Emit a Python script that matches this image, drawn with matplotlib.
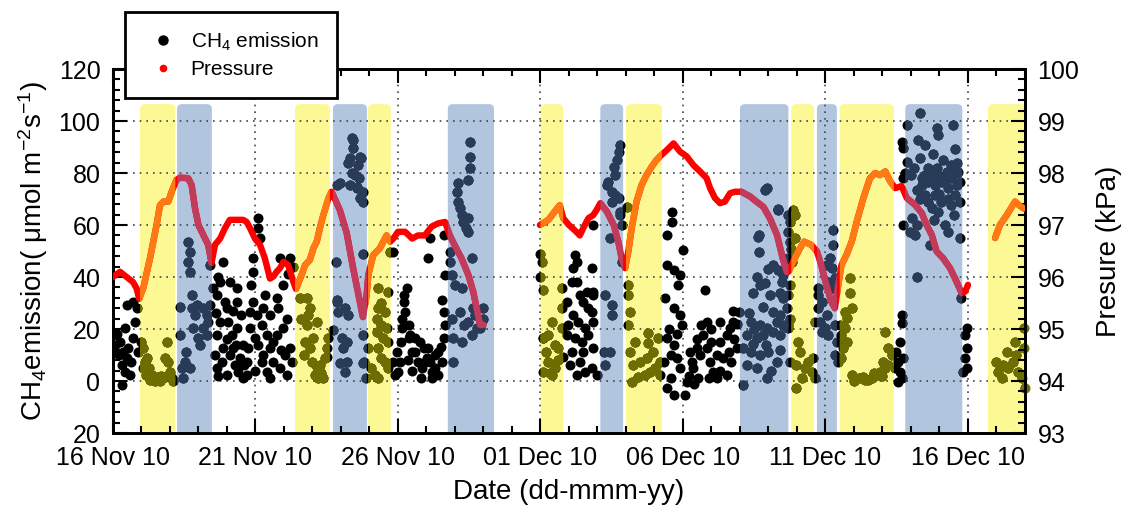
import numpy as np
import matplotlib
matplotlib.use('Agg')
import matplotlib.pyplot as plt
import matplotlib.dates as mdates
from matplotlib.patches import FancyBboxPatch
from matplotlib.lines import Line2D
from matplotlib.ticker import MultipleLocator, FuncFormatter

plt.rcParams['font.family'] = ['Liberation Sans', 'DejaVu Sans']
plt.rcParams['mathtext.fontset'] = 'custom'
plt.rcParams['mathtext.rm'] = 'Liberation Sans'
plt.rcParams['mathtext.it'] = 'Liberation Sans:italic'

# all times are days after 16 Nov 2010 00:00
start = np.datetime64('2010-11-16')

# CH4 emission (umol m-2 s-1), (day, value), by period
ch4_nov16 = [(0.07, 13.8), (0.25, 15.1), (0.36, 11.3), (0.30, 6.2), (0.30, -1.5), (0.48, 8.7),
             (0.54, 12.6), (0.42, 20.3), (0.48, 29.2), (0.71, 30.5), (0.77, 22.8), (0.71, 16.4),
             (0.60, 2.3), (0.83, 28.0), (0.89, 11.3), (0.42, 3.6), (0.20, 10.0), (0.65, 7.4),
             (0.15, 18.0), (0.05, 11.0)]
ch4_nov17 = [(1.06, 12.6), (1.12, 7.4), (1.17, 2.3), (1.30, 0.4), (1.47, 0.0), (1.65, 0.0),
             (1.77, 1.0), (1.88, 15.1), (1.94, 7.4), (2.00, 3.6), (2.06, 1.0), (1.82, 8.7),
             (1.06, 4.9), (1.20, 8.7), (1.36, 2.3), (1.59, 1.7), (2.12, 0.0), (1.00, 15.0), (1.25, 5.0),
             (1.40, 1.5), (1.70, 2.0), (1.55, 0.5)]
ch4_nov18 = [(2.35, 28.6), (2.35, 17.7), (2.47, 1.0), (2.58, 11.3), (2.64, 53.6), (2.70, 49.7),
             (2.64, 45.9), (2.70, 42.0), (2.76, 33.0), (2.76, 28.0), (2.88, 25.4), (2.82, 20.3),
             (3.00, 16.4), (3.05, 13.8), (3.17, 28.0), (3.29, 25.4), (3.34, 22.8), (3.29, 17.7),
             (3.17, 20.3), (3.40, 29.2), (3.40, 44.6), (2.41, 4.9), (2.53, 7.4), (2.70, 4.9), (2.94, 29.2)]
ch4_nov19 = [(3.52, 35.6), (3.64, 33.0), (3.75, 38.2), (3.87, 45.9), (3.93, 30.5), (3.99, 28.0),
             (4.05, 22.8), (4.10, 38.2), (4.16, 17.7), (3.64, 17.7), (3.58, 10.0), (3.64, 4.9),
             (3.81, 7.4), (3.99, 2.3), (4.10, 10.0), (4.22, 12.6), (4.28, 6.2), (4.40, 3.6),
             (4.46, 8.7), (4.57, 1.0), (4.69, 2.3), (4.69, 7.4), (4.80, 20.3), (4.80, 26.7),
             (4.92, 30.5), (4.86, 37.0), (4.92, 42.0), (4.92, 47.2), (5.10, 62.6), (5.10, 58.7),
             (5.16, 54.9), (5.04, 25.4), (4.98, 16.4), (5.10, 13.8), (5.22, 21.5), (5.27, 28.0),
             (5.33, 33.0), (5.39, 17.7), (5.51, 25.4), (5.51, 12.6), (5.63, 7.4), (5.74, 17.7),
             (5.80, 28.0), (5.86, 47.2), (5.98, 37.0), (6.04, 10.0), (6.09, 2.3), (6.21, 47.2),
             (6.21, 12.6), (6.27, 7.4), (5.22, 7.4), (5.39, 3.6), (5.86, 4.9), (4.57, 13.8),
             (4.34, 20.3), (4.34, 30.5), (4.51, 25.4), (3.75, 22.8), (3.87, 12.6), (5.74, 31.8),
             (5.98, 20.3), (5.27, 10.0), (5.63, 15.1), (4.75, 12.6), (4.34, 35.6), (6.15, 41.0),
             (6.33, 44.0), (3.70, 40.0), (3.70, 2.0), (4.00, 16.0), (4.30, 14.0), (4.60, 6.0),
             (5.00, 4.0), (5.50, 1.0), (5.90, 12.0), (6.10, 24.0), (4.20, 27.0), (3.60, 26.0)]
ch4_nov22 = [(6.80, 31.8), (6.85, 25.4), (6.80, 21.5), (6.74, 15.1), (6.91, 12.6), (6.97, 7.4),
             (7.09, 2.3), (7.20, 1.0), (7.38, 1.0), (7.43, 8.7), (7.50, 12.6), (7.56, 16.4),
             (7.03, 16.4), (7.15, 22.8), (6.91, 28.0), (7.26, 6.2), (6.56, 32.0), (6.60, 24.0),
             (7.16, 5.4), (7.50, 9.2), (6.70, 10.0), (7.30, 3.0)]
ch4_nov23 = [(8.37, 93.3), (8.43, 89.5), (8.32, 85.6), (8.60, 83.0), (8.71, 85.6), (8.49, 79.2),
             (8.32, 75.4), (8.55, 74.1), (8.77, 72.8), (8.67, 70.3), (8.77, 69.0), (7.97, 76.0),
             (7.84, 45.9), (7.90, 26.7), (8.14, 28.0), (8.26, 25.4), (8.03, 16.4), (8.20, 15.1),
             (8.08, 12.6), (8.20, 7.4), (8.14, 3.6), (8.77, 17.7), (8.82, 7.4), (8.89, 1.0),
             (8.25, 83.8), (8.42, 92.7), (8.67, 86.0), (8.56, 74.6), (7.86, 31.0), (7.72, 19.6),
             (7.96, 7.0), (8.77, 49.0), (8.77, 7.0), (7.85, 75.4), (7.85, 30.5), (8.40, 80.0), (8.62, 78.0)]
ch4_nov25 = [(9.31, 35.6), (9.66, 34.4), (9.31, 28.0), (9.54, 26.7), (9.25, 24.0), (9.42, 21.5),
             (9.60, 20.3), (9.49, 16.4), (9.31, 12.6), (9.66, 15.1), (9.42, 8.7), (9.54, 7.4),
             (9.18, 2.3), (9.30, 1.0), (9.66, 4.9), (9.73, 49.7), (8.96, 12.6), (9.25, 19.0),
             (9.05, 5.0), (9.40, 30.0)]
ch4_nov26 = [(9.84, 49.7), (10.30, 35.6), (10.20, 30.5), (10.25, 26.7), (10.13, 20.3), (10.37, 21.5),
             (10.43, 17.7), (10.60, 16.4), (10.77, 15.1), (10.90, 12.6), (11.02, 8.7), (11.12, 7.4),
             (11.30, 4.9), (11.42, 2.3), (11.53, 7.4), (11.60, 16.4), (11.65, 21.5), (11.60, 26.7),
             (9.95, 11.3), (10.07, 7.4), (10.00, 3.6), (10.48, 11.3), (10.71, 7.4), (10.83, 4.9),
             (11.07, 12.6), (11.30, 10.0), (11.12, 54.9), (11.07, 47.2), (11.60, 56.0), (11.65, 40.8),
             (10.37, 16.4), (10.60, 11.3), (11.18, 3.6), (10.94, 7.4), (11.42, 11.3), (9.84, 7.4),
             (9.90, 2.3), (10.20, 33.0), (10.10, 15.0), (11.55, 31.0), (10.50, 4.0), (10.80, 1.0),
             (11.20, 1.0), (11.50, 13.0), (10.35, 8.0), (10.15, 24.0)]
ch4_nov28 = [(12.53, 92.0), (12.53, 86.3), (12.53, 81.8), (12.47, 77.3), (12.12, 76.0), (12.06, 72.8),
             (12.12, 69.0), (12.18, 66.4), (12.23, 63.8), (12.29, 61.3), (12.40, 58.7), (12.47, 57.4),
             (12.47, 62.6), (12.60, 47.2), (11.82, 49.7), (11.82, 45.9), (11.88, 40.8), (12.00, 37.0),
             (12.23, 35.6), (12.18, 26.7), (11.88, 24.0), (12.30, 21.5), (12.47, 22.8), (12.65, 28.0),
             (12.76, 20.3), (13.00, 28.0), (13.00, 24.0), (11.94, 16.4), (12.23, 15.1), (11.94, 7.4),
             (12.60, 17.7), (12.70, 25.4), (12.88, 20.3)]
ch4_dec01 = [(14.98, 49.0), (14.98, 40.0), (15.04, 45.9), (15.10, 16.4), (15.28, 7.4), (15.40, 22.8),
             (15.50, 4.9), (15.75, 35.6), (15.75, 28.0), (15.63, 12.6), (15.40, 2.3), (15.20, 11.3),
             (15.50, 13.8), (15.75, 20.3), (15.28, 17.7), (15.10, 3.6), (15.09, 35.0), (15.09, 16.5),
             (15.79, 9.2), (15.33, 3.0), (15.60, 8.0)]
ch4_dec02 = [(16.21, 48.5), (16.27, 45.9), (16.15, 43.3), (16.10, 38.2), (16.27, 38.2), (16.80, 43.3),
             (16.39, 33.0), (16.62, 34.4), (16.85, 34.4), (16.85, 33.0), (15.93, 30.5), (16.50, 30.5),
             (16.67, 28.0), (16.80, 26.7), (16.15, 25.4), (15.97, 21.5), (16.33, 22.8), (16.57, 20.3),
             (16.85, 22.8), (15.92, 17.7), (16.21, 16.4), (16.45, 15.1), (16.67, 17.7), (16.10, 11.3),
             (16.50, 11.3), (16.85, 12.6), (16.03, 6.2), (16.39, 7.4), (16.57, 3.6), (16.80, 4.9),
             (16.97, 2.3), (16.27, 2.3), (16.85, 60.0)]
ch4_dec03 = [(17.80, 90.8), (17.74, 88.2), (17.68, 85.0), (17.57, 82.4), (17.63, 79.2), (17.33, 75.4),
             (17.50, 72.8), (17.63, 71.5), (17.74, 70.3), (17.50, 69.0), (17.80, 65.1), (17.85, 60.0),
             (17.45, 54.9), (17.85, 45.9), (17.26, 33.0), (17.50, 29.2), (17.50, 25.4), (17.23, 11.3),
             (17.45, 11.3), (17.26, 6.2), (17.80, 63.8), (17.38, 76.7)]
ch4_dec04 = [(18.08, 37.0), (18.08, 33.0), (18.14, 26.7), (18.08, 21.5), (18.14, 11.3), (18.26, 6.2),
             (18.20, -0.3), (18.43, 1.7), (18.67, 2.3), (18.85, 3.6), (19.02, 4.9), (19.20, 7.4),
             (18.78, 18.3), (18.78, 14.5), (18.96, 11.3), (19.13, 16.4), (18.49, 7.4), (18.73, 8.7),
             (19.20, 2.3), (18.32, 15.1), (18.02, 67.0)]
ch4_dec05 = [(19.60, 65.1), (19.60, 61.3), (19.43, 56.2), (20.00, 50.4), (19.43, 44.6), (19.67, 42.7),
             (19.90, 40.8), (19.84, 37.0), (20.77, 35.1), (19.37, 31.8), (19.67, 28.0), (19.90, 25.4),
             (19.95, 21.5), (19.43, 16.4), (19.67, 13.8), (19.58, 10.0), (19.35, 7.4), (19.58, 1.0),
             (19.43, -2.8), (19.67, -5.4), (20.07, -5.4), (20.13, -0.3), (20.36, 4.9), (20.25, 11.3),
             (20.48, 12.6), (20.65, 21.5), (20.83, 22.8), (20.70, 17.7), (20.83, 12.6), (20.95, 7.4),
             (21.07, 3.6), (21.18, 10.0), (21.30, 15.1), (21.30, 22.8), (21.53, 17.7), (21.65, 20.3),
             (21.77, 22.8), (21.95, 26.7), (21.88, 12.6), (21.70, 7.4), (21.53, 2.3), (21.18, 1.0),
             (20.54, 1.0), (19.90, 4.9), (19.78, 8.7), (20.30, 7.4), (21.00, 15.1), (21.40, 8.7),
             (20.60, 10.0), (21.75, 27.0), (21.90, 22.0), (20.20, 2.0), (20.40, -1.0), (20.90, 1.0),
             (21.30, 4.0), (21.60, 11.0), (21.80, 16.0), (21.00, 20.0), (20.50, 16.0), (19.50, 20.0),
             (19.80, 18.0)]
ch4_dec08 = [(22.94, 74.1), (23.35, 65.8), (22.65, 56.2), (22.65, 49.7), (23.17, 44.6), (23.35, 42.7),
             (23.52, 40.8), (23.47, 38.2), (22.70, 37.0), (22.87, 37.6), (22.47, 33.7), (23.05, 33.0),
             (23.40, 33.7), (23.52, 31.8), (22.82, 28.6), (23.17, 26.7), (23.40, 25.4), (23.64, 28.0),
             (22.40, 22.8), (22.70, 21.5), (22.94, 20.3), (23.29, 22.8), (23.52, 21.5), (23.76, 24.0),
             (22.23, 17.7), (22.58, 16.4), (22.82, 17.7), (23.17, 19.0), (23.40, 17.7), (22.10, 12.6),
             (22.40, 11.3), (22.70, 10.0), (22.99, 11.3), (23.29, 7.4), (22.23, 6.2), (22.58, 4.9),
             (22.94, 1.0), (22.10, -1.5), (23.70, 20.3), (22.47, 14.1), (22.88, 73.5), (23.33, 66.0),
             (22.63, 55.4), (22.30, 26.0), (22.50, 20.0), (22.90, 14.0), (23.10, 4.0), (23.40, 12.0),
             (22.60, 40.0), (23.00, 43.0)]
ch4_dec09 = [(23.70, 63.8), (23.75, 61.3), (23.70, 57.4), (23.75, 53.6), (23.70, 47.2), (23.75, 37.0),
             (23.70, 33.0), (23.70, 21.5), (23.75, 7.4), (23.80, 50.9),
             (23.87, 65.8), (23.93, 63.8), (23.93, 54.9), (24.05, 15.1), (24.10, 11.3), (23.98, 6.2),
             (24.28, 4.9), (24.17, 1.0), (23.98, -2.8), (24.40, 7.4), (24.52, 3.6), (24.63, 1.0),
             (24.57, 8.7), (24.63, 22.8), (23.81, 45.9)]
ch4_dec10 = [(25.27, 58.0), (25.27, 52.3), (25.16, 47.2), (25.22, 43.3), (25.04, 44.6), (25.33, 39.5),
             (25.10, 38.2), (25.27, 35.6), (24.75, 35.6), (24.87, 30.5), (24.75, 28.0), (25.04, 25.4),
             (24.80, 22.8), (24.98, 20.3), (24.87, 19.0), (25.33, 21.5), (25.39, 15.1), (25.33, 10.0),
             (25.45, 7.4), (25.10, 17.7), (24.75, 33.0)]
ch4_dec11 = [(25.86, 39.5), (25.86, 33.7), (25.92, 28.0), (25.74, 24.1), (25.68, 20.3), (25.56, 17.7),
             (25.62, 12.6), (25.74, 15.1), (25.56, 8.7), (25.50, 21.5), (25.92, 2.3), (26.16, 1.0),
             (26.39, 0.4), (26.62, 1.0), (26.80, 2.3), (26.92, 3.6), (27.09, 4.9), (27.09, 19.0),
             (27.20, 12.6), (27.32, 10.0), (27.03, 7.4), (25.68, 26.7), (26.00, 0.0), (26.30, 1.5),
             (26.50, 0.5), (26.70, 3.0), (27.00, 2.0), (27.20, 6.0),
             (27.49, 11.3), (27.55, 7.4), (27.60, 3.6), (27.67, 1.0), (27.55, -0.3), (27.73, 8.7),
             (27.60, 15.1), (27.67, 25.4), (27.67, 22.2), (27.43, 4.9)]
ch4_dec13 = [(28.32, 103.0), (27.85, 98.5), (27.67, 92.0), (27.73, 89.5), (27.85, 84.4), (27.79, 79.9),
             (28.00, 79.2), (28.26, 92.7), (28.50, 90.8), (28.32, 85.6), (28.61, 81.8), (28.90, 97.2),
             (28.96, 94.6), (29.49, 98.5), (28.78, 87.4), (29.13, 84.9), (29.54, 89.3), (29.42, 83.0),
             (29.66, 80.5), (28.38, 75.4), (28.61, 76.7), (28.84, 75.4), (29.07, 76.7), (29.30, 74.1),
             (29.54, 71.5), (29.71, 76.7), (28.50, 71.5), (28.84, 71.5), (29.07, 69.0), (28.73, 66.4),
             (28.96, 65.1), (29.42, 67.7), (29.71, 69.0), (28.02, 62.6), (28.20, 60.0), (27.96, 57.4),
             (28.14, 56.2), (27.73, 60.0), (28.67, 52.3), (29.19, 60.0), (29.30, 57.4), (29.71, 54.9),
             (28.20, 40.1), (28.50, 79.2), (28.20, 73.6), (29.25, 80.5), (29.60, 75.4), (27.73, 78.0),
             (28.10, 82.0), (28.40, 78.0), (28.70, 79.0), (28.90, 82.0), (29.00, 79.0), (29.20, 77.0),
             (29.40, 78.0), (29.50, 80.0), (29.60, 84.0), (28.30, 70.0), (28.60, 69.0), (29.00, 72.0),
             (29.30, 70.0), (28.80, 62.0), (29.50, 64.0)]
ch4_dec15 = [(29.95, 20.3), (29.89, 17.7), (29.95, 12.6), (29.89, 8.7), (29.95, 4.9), (29.82, 3.6),
             (29.77, 31.8),
             (30.99, 7.4), (31.06, 3.6), (31.18, 1.0), (31.36, 11.3), (31.41, 4.9), (31.59, 7.4),
             (31.70, 10.0), (31.77, 3.6), (31.95, 20.3), (31.95, 12.6), (31.89, 1.0), (32.00, -2.8),
             (31.64, 15.1), (31.24, 6.2)]

# air pressure (kPa); NaN marks the gaps in the record
p_day = [0.00, 0.25, 0.48, 0.71, 0.83, 0.92, 1.06, 1.30, 1.53, 1.65, 1.77, 1.94, 2.06, 2.23,
         2.35, 2.64, 2.76, 2.88, 3.00, 3.17, 3.34, 3.46, 3.58, 3.76, 3.93, 4.10, 4.34, 4.57,
         4.69, 4.81, 4.98, 5.16, 5.33, 5.51, 5.63, 5.74, 5.86, 5.98, 6.15, 6.33, 6.42, 6.62,
         6.74, 6.91, 7.03, 7.15, 7.26, 7.38, 7.56, 7.67, 7.96, 8.20, 8.42, 8.67, 8.77, 8.90,
         8.96, 9.13, 9.36, 9.60, 9.73, 9.84, 10.00, 10.25, 10.50, 10.70, 10.94, 11.18, 11.40,
         11.65, 11.82, 12.00, 12.23, 12.47, 12.64, 12.76, 12.88, 13.00, 14.00,
         14.98, 15.28, 15.50, 15.68, 15.80, 16.00, 16.26, 16.38, 16.50, 16.68, 16.85, 16.97,
         17.10, 17.33, 17.57, 17.73, 17.85, 17.97, 18.08, 18.20, 18.37, 18.55, 18.72, 18.90,
         19.07, 19.25, 19.43, 19.67, 19.90, 20.13, 20.37, 20.60, 20.83, 20.95, 21.12, 21.30,
         21.47, 21.65, 21.82, 22.05, 22.35, 22.58, 22.82, 23.05, 23.30, 23.50, 23.64, 23.70,
         23.87, 24.10, 24.25, 24.50, 24.70, 24.85, 25.00, 25.20, 25.33, 25.45, 25.56, 25.74,
         25.92, 26.10, 26.33, 26.56, 26.74, 26.91, 27.10, 27.27, 27.45, 27.67, 27.85, 28.14,
         28.38, 28.55, 28.73, 28.90, 29.13, 29.37, 29.54, 29.78, 29.90, 30.00, 30.50,
         30.95, 31.12, 31.36, 31.65, 31.77, 31.95]
p_kpa = [96.00, 96.10, 96.00, 95.90, 95.78, 95.58, 95.78, 96.36, 97.00, 97.38, 97.45, 97.45, 97.64, 97.87,
         97.91, 97.90, 97.77, 97.32, 97.00, 96.81, 96.62, 96.27, 96.62, 96.74, 96.94, 97.10, 97.10, 97.10,
         97.06, 96.94, 96.74, 96.62, 96.36, 95.97, 96.01, 96.10, 96.17, 96.29, 96.23, 95.91, 95.77, 96.04,
         96.23, 96.33, 96.55, 96.68, 96.94, 97.19, 97.51, 97.64, 97.29, 96.85, 96.19, 95.50, 95.23, 95.65,
         96.04, 96.42, 96.55, 96.80, 96.68, 96.74, 96.87, 96.87, 96.74, 96.80, 96.80, 96.97, 97.03,
         97.06, 96.80, 96.60, 96.36, 96.04, 95.72, 95.40, 95.08, 95.08, np.nan,
         97.00, 97.10, 97.26, 97.38, 97.13, 97.00, 96.87, 96.80, 96.94, 97.13, 97.19, 97.29,
         97.42, 97.26, 97.00, 96.68, 96.36, 96.17, 96.49, 96.94, 97.45, 97.77, 97.96, 98.12,
         98.25, 98.35, 98.44, 98.57, 98.41, 98.32, 98.15, 98.03, 97.90, 97.71, 97.52, 97.42,
         97.45, 97.61, 97.64, 97.64, 97.55, 97.45, 97.35, 97.13, 96.81, 96.36, 96.10, 96.10,
         96.30, 96.55, 96.68, 96.62, 96.49, 96.23, 95.91, 95.53, 95.40, 95.85, 96.23, 96.43,
         96.68, 97.07, 97.52, 97.90, 98.00, 97.96, 98.03, 97.84, 97.71, 97.75, 97.52, 97.39,
         97.23, 97.00, 96.81, 96.49, 96.36, 96.17, 95.98, 95.69, 95.72, 95.85, np.nan,
         96.75, 97.00, 97.19, 97.45, 97.39, 97.32]

# shaded periods (day start, day end)
yellow_periods = [(0.95, 2.19), (6.39, 7.61), (8.95, 9.75), (15.0, 15.8), (18.0, 19.26),
                  (23.8, 24.6), (25.5, 27.4), (30.7, 32.5)]
blue_periods = [(2.25, 3.47), (7.72, 8.91), (11.75, 13.37), (17.1, 17.9), (22.0, 23.7),
                (24.7, 25.4), (27.8, 29.8)]

t0 = mdates.date2num(start)
ch4 = np.array(ch4_nov16 + ch4_nov17 + ch4_nov18 + ch4_nov19 + ch4_nov22 + ch4_nov23 + ch4_nov25
               + ch4_nov26 + ch4_nov28 + ch4_dec01 + ch4_dec02 + ch4_dec03 + ch4_dec04 + ch4_dec05
               + ch4_dec08 + ch4_dec09 + ch4_dec10 + ch4_dec11 + ch4_dec13 + ch4_dec15)
ch4_t = t0 + ch4[:, 0]
p_t = t0 + np.array(p_day)

fig = plt.figure(figsize=(11.25, 5.08), dpi=100)
ax = fig.add_axes([0.1004, 0.1476, 0.8107, 0.7165])
ax2 = ax.twinx()

ax.set_xlim(t0, t0 + 32)
ax.set_ylim(-20, 120)
ax2.set_ylim(93, 100)

# coloured periods; data inside gets a tinted copy clipped to the band
bands = []
for periods, face, dot, line in [(yellow_periods, '#fcf995', '#6e6d00', '#ff7a12'),
                                 (blue_periods, '#b1c5df', '#283b58', '#c03b5c')]:
    for a, b in periods:
        patch = FancyBboxPatch((t0 + a, -40), b - a, 146.5,
                               boxstyle='round,pad=0,rounding_size=0.18',
                               mutation_aspect=10, fc=face, ec='none', zorder=1)
        ax.add_patch(patch)
        bands.append((patch, dot, line))

ms = 52
ax.scatter(ch4_t, ch4[:, 1], s=ms, c='k', linewidths=0, zorder=3)
ax2.plot(p_t, p_kpa, color='#ff0000', lw=4.6, solid_capstyle='round', zorder=3)
for patch, dot, line in bands:
    sc = ax.scatter(ch4_t, ch4[:, 1], s=ms, c=dot, linewidths=0, zorder=3.1)
    sc.set_clip_path(patch)
    ln, = ax2.plot(p_t, p_kpa, color=line, lw=4.6, solid_capstyle='round', zorder=3.1)
    ln.set_clip_path(patch)

ax.set_axisbelow('line')
ax.grid(True, which='major', linestyle=(0, (1, 3)), color='#444444', linewidth=1.2)

ax.xaxis.set_major_locator(mdates.DayLocator(bymonthday=[1, 6, 11, 16, 21, 26]))
ax.xaxis.set_minor_locator(mdates.DayLocator())
ax.xaxis.set_major_formatter(mdates.DateFormatter('%d %b %y'))
ax.yaxis.set_major_locator(MultipleLocator(20))
ax.yaxis.set_minor_locator(MultipleLocator(4))
ax.yaxis.set_major_formatter(FuncFormatter(lambda v, pos: '%d' % abs(v)))
ax2.yaxis.set_major_locator(MultipleLocator(1))
ax2.yaxis.set_minor_locator(MultipleLocator(0.2))

ax.tick_params(which='both', direction='in', top=True, right=False, labelsize=18, width=1.5, color='k')
ax.tick_params(axis='y', which='major', length=10, pad=9)
ax.tick_params(axis='x', which='major', length=10, pad=9)
ax.tick_params(which='minor', length=5)
ax2.tick_params(which='both', direction='in', labelsize=18, width=1.5)
ax2.tick_params(which='major', length=10, pad=9)
ax2.tick_params(which='minor', length=5)
for a in (ax, ax2):
    for s in a.spines.values():
        s.set_linewidth(2)

ax.set_ylabel('CH$_4$emission( μmol m$^{-2}$s$^{-1}$)', fontsize=20, labelpad=6)
ax.set_xlabel('Date (dd-mmm-yy)', fontsize=20, labelpad=7)
ax2.set_ylabel('Presure (kPa)', fontsize=20, labelpad=12)

handles = [Line2D([], [], ls='none', marker='o', color='k', ms=6.5),
           Line2D([], [], ls='none', marker='o', color='#ff0000', ms=4.5)]
leg = fig.legend(handles, ['CH$_4$ emission', 'Pressure'], loc='upper left',
                 bbox_to_anchor=(125 / 1125, 1 - 12 / 508), frameon=True, fancybox=False,
                 edgecolor='k', framealpha=1, fontsize=15, borderpad=0.9, handlelength=1.8,
                 handletextpad=0.45, labelspacing=0.35, borderaxespad=0)
leg.get_frame().set_linewidth(2)

fig.savefig('out.png', dpi=100)
